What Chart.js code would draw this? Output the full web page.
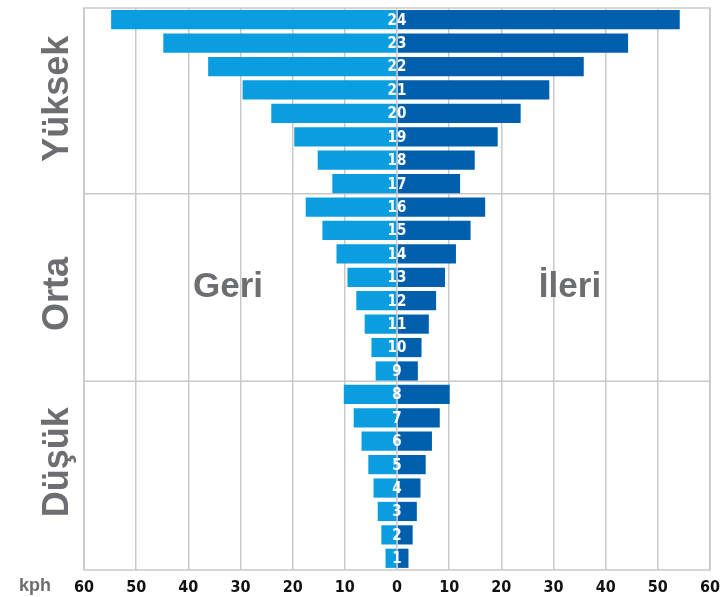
<!DOCTYPE html>
<html><head><meta charset="utf-8">
<script src="https://cdn.jsdelivr.net/npm/chart.js@4/dist/chart.umd.min.js"></script>
<style>html,body{margin:0;padding:0;background:#fff}#wrap{width:724px;height:597px;position:relative}</style>
</head><body><div id="wrap"><canvas id="c" width="724" height="597"></canvas></div>
<script>
const categories = ['1','2','3','4','5','6','7','8','9','10','11','12','13','14','15','16','17','18','19','20','21','22','23','24'];
const geri  = [2.2,3.0,3.7,4.5,5.5,6.8,8.3,10.2,4.1,4.9,6.2,7.8,9.5,11.6,14.3,17.5,12.4,15.2,19.7,24.1,29.6,36.2,44.8,54.8];
const ileri = [2.2,3.0,3.8,4.5,5.5,6.7,8.2,10.1,4.0,4.7,6.1,7.5,9.2,11.3,14.1,16.9,12.1,14.9,19.3,23.7,29.2,35.8,44.3,54.2];
const xTicks = [-60,-50,-40,-30,-20,-10,0,10,20,30,40,50,60];
const bands = [{label:'Düşük', from:'1', to:'8'},{label:'Orta', from:'9', to:'16'},{label:'Yüksek', from:'17', to:'24'}];
const bandLabelShift = [-14, 5, -3];
const sideLabels = ['Geri','İleri'];
const unitLabel = 'kph';

const GRAY = '#6d6e71';
const GRID = '#c9c9c9';
const NUMFONT = '"Liberation Sans Narrow","DejaVu Sans Condensed",Roboto,sans-serif';

const overlay = {
  id:'overlay',
  beforeDatasetsDraw(chart){
    const {ctx, chartArea:a, scales:{y}} = chart;
    ctx.save();
    ctx.strokeStyle = GRID; ctx.lineWidth = 1.5;
    for (let i=0;i<bands.length-1;i++){
      const top = categories.indexOf(bands[i].to);
      const py = (y.getPixelForValue(top) + y.getPixelForValue(top+1))/2 - 1.5;
      ctx.beginPath(); ctx.moveTo(a.left, py); ctx.lineTo(a.right, py); ctx.stroke();
    }
    ctx.strokeRect(a.left, a.top, a.right-a.left, a.bottom-a.top);
    ctx.fillStyle = GRAY;
    ctx.font = 'bold 35px "Liberation Sans", Arial, sans-serif';
    ctx.textAlign = 'center'; ctx.textBaseline = 'alphabetic';
    ctx.fillText(sideLabels[0], 228, 297);
    ctx.fillText(sideLabels[1], 570, 297);
    ctx.restore();
  },
  afterDatasetsDraw(chart){
    const {ctx, scales:{x,y}} = chart;
    ctx.save();
    ctx.fillStyle = '#fff';
    ctx.font = 'bold 15px ' + NUMFONT;
    ctx.textAlign = 'center'; ctx.textBaseline = 'middle';
    const x0 = x.getPixelForValue(0);
    categories.forEach((c,i)=>{ ctx.fillText(c, x0, y.getPixelForValue(i)+1); });
    ctx.fillStyle = GRAY;
    ctx.font = 'bold 36px "Liberation Sans", Arial, sans-serif';
    bands.forEach((b,k)=>{
      const i1 = categories.indexOf(b.from), i2 = categories.indexOf(b.to);
      const cy = (y.getPixelForValue(i1)+y.getPixelForValue(i2))/2 + bandLabelShift[k];
      ctx.save();
      ctx.translate(58, cy);
      ctx.rotate(-Math.PI/2);
      ctx.textAlign='center'; ctx.textBaseline='middle';
      ctx.fillText(b.label, 0, 0);
      ctx.restore();
    });
    ctx.font = 'bold 18px "Liberation Sans", Arial, sans-serif';
    ctx.textAlign = 'center'; ctx.textBaseline = 'middle';
    ctx.fillText(unitLabel, 35, 586);
    ctx.restore();
  }
};

new Chart(document.getElementById('c'), {
  type:'bar',
  data:{
    labels: categories,
    datasets:[
      {label:sideLabels[0], data: geri.map(v=>-v), backgroundColor:'#0a9de0', borderWidth:0, barPercentage:0.82, categoryPercentage:1},
      {label:sideLabels[1], data: ileri, backgroundColor:'#005fad', borderWidth:0, barPercentage:0.82, categoryPercentage:1}
    ]
  },
  options:{
    indexAxis:'y',
    responsive:false,
    animation:false,
    layout:{padding:{left:84, right:14, top:8, bottom:0}},
    plugins:{legend:{display:false}, tooltip:{enabled:false}},
    scales:{
      x:{
        stacked:true, min:-60, max:60,
        afterBuildTicks(s){ s.ticks = xTicks.map(v=>({value:v})); },
        afterFit(s){ s.height = 27; s.paddingLeft = 0; s.paddingRight = 0; },
        grid:{color:GRID, lineWidth:1.5, drawTicks:false},
        border:{display:false},
        ticks:{color:'#111', padding:8, font:{family:NUMFONT, size:16, weight:'bold'}, callback:v=>Math.abs(v), maxRotation:0, autoSkip:false}
      },
      y:{
        stacked:true, reverse:true, display:false
      }
    }
  },
  plugins:[overlay]
});
</script></body></html>
